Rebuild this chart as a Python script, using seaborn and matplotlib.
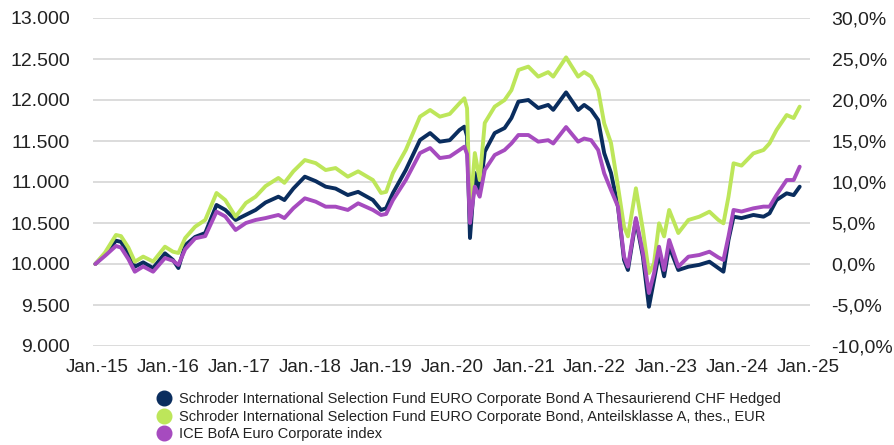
import pandas as pd
import numpy as np
import seaborn as sns
import matplotlib.pyplot as plt
import matplotlib.ticker as mticker
from matplotlib.lines import Line2D

# Werte (Start = 10.000)
dates = ["2014-12-22", "2015-02-10", "2015-04-07", "2015-05-03", "2015-06-10", "2015-07-13",
         "2015-08-25", "2015-10-15", "2015-12-15", "2016-01-25", "2016-02-22", "2016-03-28",
         "2016-05-18", "2016-07-09", "2016-09-05", "2016-10-20", "2016-12-12", "2017-02-03",
         "2017-03-25", "2017-05-15", "2017-07-20", "2017-08-20", "2017-10-05", "2017-12-03",
         "2018-01-28", "2018-03-20", "2018-05-10", "2018-07-12", "2018-09-03", "2018-11-18",
         "2018-12-30", "2019-01-25", "2019-03-01", "2019-05-06", "2019-07-18", "2019-09-08",
         "2019-10-28", "2019-12-18", "2020-02-06", "2020-03-02", "2020-03-16", "2020-03-31",
         "2020-04-25", "2020-05-20", "2020-06-15", "2020-08-05", "2020-09-25", "2020-10-30",
         "2020-12-05", "2021-01-25", "2021-03-17", "2021-05-07", "2021-06-02", "2021-08-07",
         "2021-10-08", "2021-11-08", "2021-12-14", "2022-01-19", "2022-02-19", "2022-03-26",
         "2022-05-01", "2022-06-01", "2022-06-21", "2022-08-01", "2022-09-06", "2022-10-07",
         "2022-11-02", "2022-11-28", "2022-12-24", "2023-01-19", "2023-03-07", "2023-04-28",
         "2023-06-23", "2023-08-14", "2023-09-29", "2023-10-25", "2023-11-20", "2023-12-16",
         "2024-01-26", "2024-03-27", "2024-05-18", "2024-06-18", "2024-07-24", "2024-09-14",
         "2024-10-20", "2024-11-20"]

chf_hedged = [10000, 10120, 10284, 10270, 10130, 9967,
              10020, 9950, 10130, 10050, 9951, 10230,
              10330, 10378, 10720, 10660, 10537, 10600,
              10659, 10750, 10821, 10780, 10920, 11065,
              11010, 10943, 10920, 10841, 10880, 10780,
              10659, 10680, 10866, 11146, 11512, 11597,
              11492, 11510, 11634, 11675, 11560, 10317,
              11110, 10866, 11370, 11597, 11658, 11780,
              11980, 12000, 11902, 11940, 11880, 12093,
              11878, 11940, 11878, 11756, 11353, 11110,
              10699, 10049, 9927, 10537, 10089, 9479,
              9805, 10134, 9850, 10211, 9927, 9967,
              9990, 10028, 9950, 9906, 10293, 10577,
              10560, 10598, 10577, 10618, 10780, 10862,
              10840, 10943]

eur_class = [10000, 10140, 10354, 10340, 10200, 10028,
             10090, 10030, 10211, 10150, 10134, 10317,
             10455, 10537, 10866, 10780, 10577, 10744,
             10821, 10950, 11049, 10990, 11130, 11268,
             11230, 11146, 11170, 11065, 11130, 11024,
             10866, 10880, 11110, 11390, 11797, 11878,
             11797, 11830, 11960, 12021, 11900, 10622,
             11353, 11024, 11720, 11919, 12000, 12120,
             12366, 12407, 12285, 12340, 12285, 12520,
             12285, 12340, 12285, 12122, 11715, 11475,
             10943, 10455, 10337, 10923, 10415, 9890,
             10008, 10496, 10337, 10659, 10378, 10537,
             10577, 10638, 10537, 10496, 10821, 11228,
             11200, 11349, 11390, 11471, 11634, 11817,
             11780, 11919]

ice_index = [10000, 10100, 10220, 10200, 10060, 9906,
             9970, 9906, 10073, 10040, 9988, 10180,
             10313, 10340, 10638, 10580, 10415, 10500,
             10537, 10560, 10598, 10560, 10680, 10801,
             10760, 10699, 10699, 10659, 10740, 10659,
             10598, 10610, 10780, 11024, 11353, 11414,
             11292, 11310, 11390, 11431, 11340, 10500,
             10943, 10821, 11146, 11329, 11390, 11470,
             11573, 11573, 11492, 11510, 11470, 11670,
             11492, 11530, 11510, 11390, 11106, 10902,
             10699, 10089, 9967, 10561, 10134, 9646,
             9886, 10211, 9927, 10293, 9967, 10089,
             10110, 10150, 10080, 10049, 10337, 10659,
             10640, 10679, 10700, 10699, 10841, 11024,
             11024, 11187]

names = ["Schroder International Selection Fund EURO Corporate Bond A Thesaurierend CHF Hedged",
         "Schroder International Selection Fund EURO Corporate Bond, Anteilsklasse A, thes., EUR",
         "ICE BofA Euro Corporate index"]
colors = ["#0a2d5e", "#bde65a", "#a64bbf"]
year_labels = ["Jan.-15", "Jan.-16", "Jan.-17", "Jan.-18", "Jan.-19", "Jan.-20",
               "Jan.-21", "Jan.-22", "Jan.-23", "Jan.-24", "Jan.-25"]

df = pd.DataFrame({"Datum": pd.to_datetime(dates),
                   names[0]: chf_hedged, names[1]: eur_class, names[2]: ice_index})

sns.set_style("white")
plt.rcParams['font.family'] = ['Liberation Sans', 'DejaVu Sans']

fig = plt.figure(figsize=(8.95, 4.45), dpi=100)
ax = fig.add_axes([93 / 895, 1 - 346 / 445, (810 - 93) / 895, (346 - 18) / 445])

# Reihenfolge: dunkelblau, gruen, lila oben
for name, col in zip(names, colors):
    sns.lineplot(x="Datum", y=name, data=df, ax=ax, color=col, linewidth=2.8, legend=False)

ax.set_ylim(9000, 13000)
ax.set_yticks(np.arange(9000, 13001, 500))
ax.yaxis.set_major_formatter(mticker.FuncFormatter(lambda v, p: f"{int(v):,}".replace(",", ".")))
ticks = pd.to_datetime([f"20{l[-2:]}-01-01" for l in year_labels])
ax.set_xticks(ticks)
ax.set_xticklabels(year_labels)
ax.set_xlim(pd.Timestamp("2014-12-10"), pd.Timestamp("2025-01-12"))
ax.set_xlabel("")
ax.set_ylabel("")
ax.grid(axis="y", color="#d9d9d9", linewidth=1.3)
ax.set_axisbelow(True)
for s in ax.spines.values():
    s.set_visible(False)
ax.tick_params(axis="both", length=0, colors="#222222")
ax.tick_params(axis="y", labelsize=14, pad=16.5)
ax.tick_params(axis="x", labelsize=13.5, pad=9)

ax2 = ax.twinx()
ax2.set_ylim(-10, 30)
ax2.set_yticks(np.arange(-10, 31, 5))
ax2.yaxis.set_major_formatter(mticker.FuncFormatter(lambda v, p: f"{v:.1f}%".replace(".", ",")))
for s in ax2.spines.values():
    s.set_visible(False)
ax2.tick_params(axis="y", length=0, labelsize=14, colors="#222222", pad=15.5)

handles = [Line2D([], [], marker="o", linestyle="", markersize=10.5, color=c) for c in colors]
fig.legend(handles, names, loc="upper left", bbox_to_anchor=(157 / 895, 1 - 392 / 445),
           frameon=False, fontsize=10.5, handlelength=1.0, handletextpad=0.5,
           labelspacing=0.25, borderaxespad=0, borderpad=0, labelcolor="#222222")

plt.savefig("out.png", dpi=100)
